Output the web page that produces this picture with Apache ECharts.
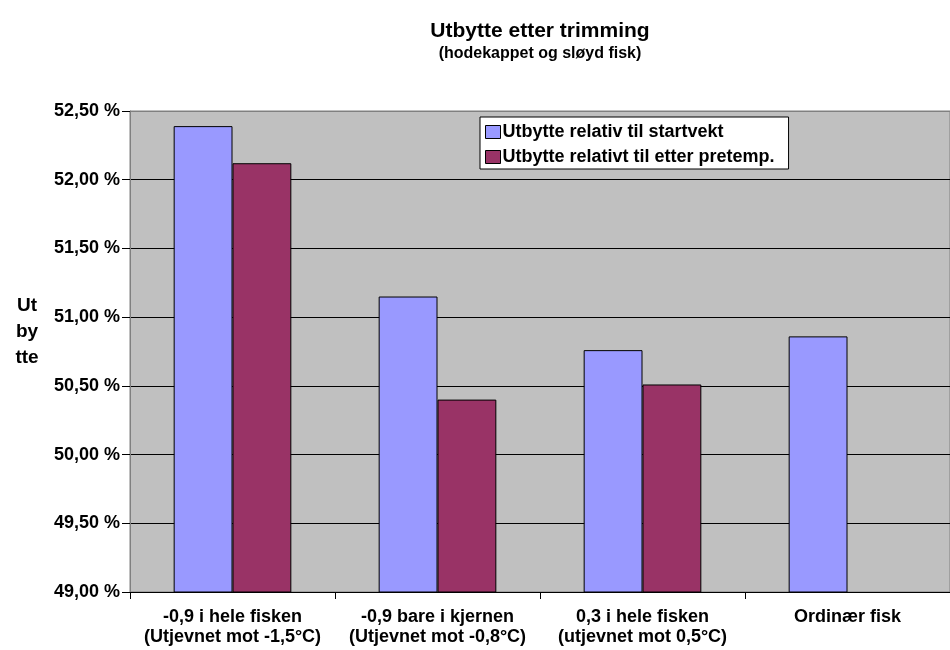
<!DOCTYPE html>
<html>
<head>
<meta charset="utf-8">
<script src="https://cdn.jsdelivr.net/npm/echarts@6/dist/echarts.min.js"></script>
<style>html,body{margin:0;padding:0;background:#fff;overflow:hidden;}#c{width:950px;height:650px;}</style>
</head>
<body>
<div id="c"></div>
<script>
var categories = [
  "-0,9 i hele fisken\n(Utjevnet mot -1,5°C)",
  "-0,9 bare i kjernen\n(Utjevnet mot -0,8°C)",
  "0,3 i hele fisken\n(utjevnet mot 0,5°C)",
  "Ordinær fisk"
];
var seriesNames = ["Utbytte relativ til startvekt", "Utbytte relativt til etter pretemp."];
var startvekt = [52.39, 51.15, 50.76, 50.86];
var etterPretemp = [52.12, 50.40, 50.51, null];

var font = "Liberation Sans, Arial, sans-serif";
var chart = echarts.init(document.getElementById('c'), null, {renderer: 'canvas'});
chart.setOption({
  animation: false,
  backgroundColor: '#ffffff',
  title: {
    text: 'Utbytte etter trimming',
    subtext: '(hodekappet og sløyd fisk)',
    left: 535, textAlign: 'center', top: 16,
    itemGap: 4,
    textStyle: {fontFamily: font, fontWeight: 'bold', fontSize: 21, color: '#000'},
    subtextStyle: {fontFamily: font, fontWeight: 'bold', fontSize: 16, color: '#000'}
  },
  legend: {
    orient: 'vertical',
    left: 480, top: 117,
    padding: [6, 14, 3, 5],
    itemGap: 7,
    itemWidth: 15, itemHeight: 13,
    backgroundColor: '#ffffff',
    borderColor: '#000000', borderWidth: 1,
    icon: 'rect',
    itemStyle: {borderColor: '#000', borderWidth: 1},
    textStyle: {fontFamily: font, fontWeight: 'bold', fontSize: 18, color: '#000', padding: [0,0,0,-3]},
    data: seriesNames
  },
  grid: {
    left: 130, width: 831, top: 111, bottom: 58,
    show: true, backgroundColor: '#C0C0C0', borderColor: '#808080', borderWidth: 1
  },
  xAxis: {
    type: 'category',
    data: categories,
    axisLine: {lineStyle: {color: '#000', width: 1}},
    axisTick: {show: true, length: 7, lineStyle: {color: '#000'}},
    axisLabel: {fontFamily: font, fontWeight: 'bold', fontSize: 18, color: '#000', margin: 15, lineHeight: 20, interval: 0}
  },
  yAxis: {
    type: 'value',
    min: 49, max: 52.5, interval: 0.5,
    name: '{a|Ut}\n{a|by}\n{a|tte}\n{s| }',
    nameLocation: 'middle',
    nameRotate: 0,
    nameGap: 103,
    nameTextStyle: {
      fontFamily: font, fontWeight: 'bold', fontSize: 19, color: '#000', align: 'center',
      rich: {
        a: {fontFamily: font, fontWeight: 'bold', fontSize: 19, color: '#000', lineHeight: 26, align: 'center'},
        s: {fontSize: 10, lineHeight: 40}
      }
    },
    axisLine: {show: true, lineStyle: {color: '#808080', width: 1}},
    axisTick: {show: true, length: 8, lineStyle: {color: '#000'}},
    splitLine: {show: true, lineStyle: {color: ['#000', '#000', '#000', '#000', '#000', '#000', '#000', '#808080'], width: 1}},
    axisLabel: {
      fontFamily: font, fontWeight: 'bold', fontSize: 18, color: '#000', margin: 10,
      formatter: function (v) { return v.toFixed(2).replace('.', ',') + ' %'; }
    }
  },
  series: [
    {
      name: seriesNames[0], type: 'bar', data: startvekt,
      barGap: '0%', barCategoryGap: '42.6%',
      itemStyle: {color: '#9999FF', borderColor: '#000', borderWidth: 1}
    },
    {
      name: seriesNames[1], type: 'bar', data: etterPretemp,
      barGap: '0%', barCategoryGap: '42.6%',
      itemStyle: {color: '#993366', borderColor: '#000', borderWidth: 1}
    }
  ]
});
</script>
</body>
</html>
